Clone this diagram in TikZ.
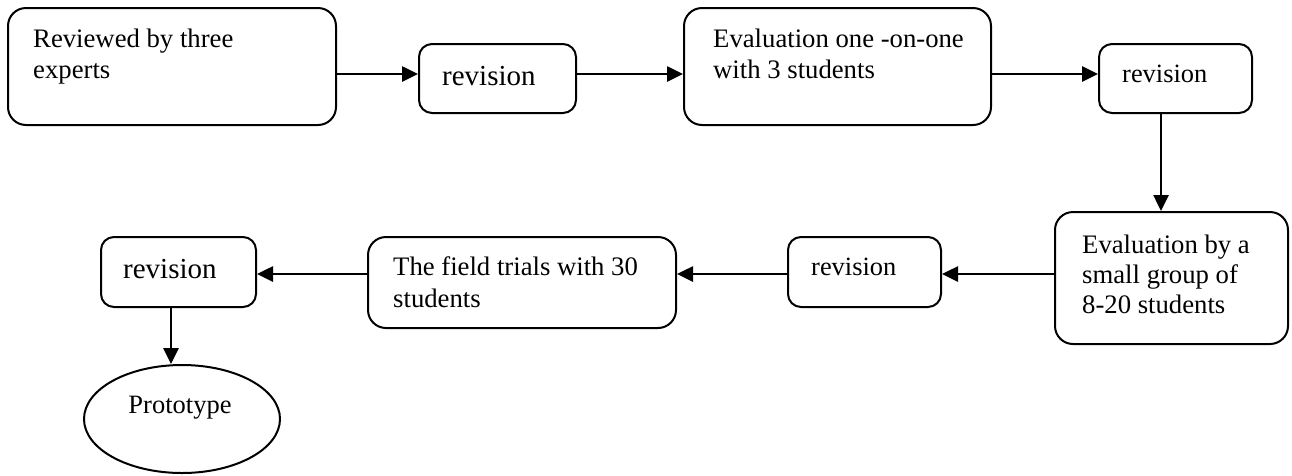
\documentclass[tikz,border=0pt]{standalone}
\usepackage{fontspec}
\setmainfont{Liberation Serif}
\usetikzlibrary{arrows.meta,shapes.geometric}
\begin{document}
\begin{tikzpicture}[x=1pt,y=-1pt,
  box/.style={draw, line width=2pt, rounded corners=18pt, inner sep=0pt},
  rbox/.style={draw, line width=2pt, rounded corners=13pt, inner sep=0pt},
  txt/.style={inner sep=0pt, anchor=base west, align=left, font=\fontsize{26.7}{31}\selectfont},
  txtb/.style={inner sep=0pt, anchor=base west, align=left, font=\fontsize{26.7}{30}\selectfont},
  txtc/.style={inner sep=0pt, anchor=base west, align=left, font=\fontsize{26.7}{32}\selectfont},
  bigrev/.style={inner sep=0pt, anchor=base west, font=\fontsize{29}{33}\selectfont},
  rev/.style={inner sep=0pt, anchor=base west, font=\fontsize{26.4}{30}\selectfont},
  arr/.style={-{Triangle[length=16pt,width=15pt]}, line width=2.6pt},
]
\useasboundingbox (0,0) rectangle (1292,475);
\coordinate (row1) at (0,74);
\coordinate (row2) at (0,274);
\coordinate (col4) at (1161,0);
\coordinate (col1) at (171,0);

% boxes
\node[box,  minimum width=328pt, minimum height=117pt] (b1) at (172,66.5) {};
\node[rbox, minimum width=157pt, minimum height=69pt]  (b2) at (497.5,78.5) {};
\node[box,  minimum width=307pt, minimum height=117pt] (b3) at (837.5,66.5) {};
\node[rbox, minimum width=153pt, minimum height=69pt]  (b4) at (1175.5,78.5) {};
\node[box,  minimum width=233pt, minimum height=132pt] (b5) at (1171.5,278) {};
\node[rbox, minimum width=153pt, minimum height=70pt]  (b6) at (864.5,272) {};
\node[box,  minimum width=308pt, minimum height=91pt]  (b7) at (522,282.5) {};
\node[rbox, minimum width=155pt, minimum height=70pt]  (b8) at (178.5,272) {};
\node[draw, line width=2pt, ellipse, inner sep=0pt, minimum width=196pt, minimum height=108pt] (e9) at (182,419) {};

% texts (base anchor = baseline of last line)
\node[txt]  (t1) at (33,78)    {Reviewed by three\\experts};
\node[bigrev] (t2) at (442,85) {revision};
\node[txt]  (t3) at (713,78)   {Evaluation one -on-one\\with 3 students};
\node[rev]  (t4) at (1122,82)  {revision};
\node[txtb] (t5) at (1082,313) {Evaluation by a\\small group of\\8-20 students};
\node[rev]  (t6) at (811,275)  {revision};
\node[txtc] (t7) at (393,307)  {The field trials with 30\\students};
\node[bigrev] (t8) at (123,278) {revision};
\node[inner sep=0pt, anchor=base, font=\fontsize{26.5}{30}\selectfont] (t9) at (180,413) {Prototype};

% connectors
\draw[arr] (b1.east |- row1) -- (b2.west |- row1);
\draw[arr] (b2.east |- row1) -- (b3.west |- row1);
\draw[arr] (b3.east |- row1) -- (b4.west |- row1);
\draw[arr] (b4.south -| col4) -- (b5.north -| col4);
\draw[arr] (b5.west |- row2) -- (b6.east |- row2);
\draw[arr] (b6.west |- row2) -- (b7.east |- row2);
\draw[arr] (b7.west |- row2) -- (b8.east |- row2);
\draw[arr] (b8.south -| col1) -- (col1 |- e9.north);
\end{tikzpicture}
\end{document}
